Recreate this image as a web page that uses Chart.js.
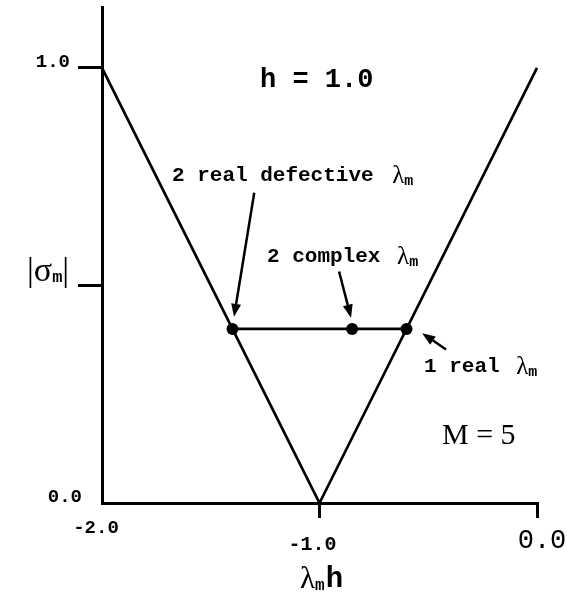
<!DOCTYPE html>
<html>
<head>
<meta charset="utf-8">
<script src="https://cdn.jsdelivr.net/npm/chart.js@4"></script>
<style>
  body { margin: 0; background: #fff; }
</style>
</head>
<body>
<canvas id="canvas" width="567" height="596"></canvas>
<script>
// |sigma_m| against lambda_m*h for the h = 1.0, M = 5 case
const vLineX = [-2.0, -1.0, 0.0]
const vLineY = [1.0, 0.0, 1.0]
const flatX = [-1.4, -0.6]
const flatY = [0.4, 0.4]
const pointX = [-1.4, -0.85, -0.6]
const pointY = [0.4, 0.4, 0.4]
const xTicks = [-2.0, -1.0, 0.0]
const yTicks = [0.0, 0.5, 1.0]

// arrows: [fromX, fromY, toX, toY] in data units
const arrows = [
  [-1.30, 0.713, -1.393, 0.428],
  [-0.91, 0.532, -0.855, 0.426],
  [-0.418, 0.353, -0.528, 0.390]
]

const mono = 'bold 21px "Liberation Mono", "Courier New", monospace'
const serif = '"Liberation Serif", "Times New Roman", serif'

function pairs(xs, ys) {
  return xs.map((x, i) => ({x: x, y: ys[i]}))
}

// writes a row of text pieces with different fonts, left to right
function drawParts(ctx, x, y, parts) {
  parts.forEach(p => {
    ctx.font = p.f
    ctx.fillText(p.t, x, y + (p.dy || 0))
    x += ctx.measureText(p.t).width + (p.gap || 0)
  })
}

const labelsPlugin = {
  id: 'labels',
  afterDraw(chart) {
    const ctx = chart.ctx
    const xs = chart.scales.x
    const ys = chart.scales.y
    ctx.save()
    ctx.fillStyle = '#000'
    ctx.strokeStyle = '#000'

    // arrows
    ctx.lineWidth = 2.5
    arrows.forEach(a => {
      const x1 = xs.getPixelForValue(a[0]), y1 = ys.getPixelForValue(a[1])
      const x2 = xs.getPixelForValue(a[2]), y2 = ys.getPixelForValue(a[3])
      const ang = Math.atan2(y2 - y1, x2 - x1)
      const len = 13, wid = 5
      ctx.beginPath()
      ctx.moveTo(x1, y1)
      ctx.lineTo(x2 - len * Math.cos(ang), y2 - len * Math.sin(ang))
      ctx.stroke()
      ctx.beginPath()
      ctx.moveTo(x2, y2)
      ctx.lineTo(x2 - len * Math.cos(ang) + wid * Math.sin(ang), y2 - len * Math.sin(ang) - wid * Math.cos(ang))
      ctx.lineTo(x2 - len * Math.cos(ang) - wid * Math.sin(ang), y2 - len * Math.sin(ang) + wid * Math.cos(ang))
      ctx.closePath()
      ctx.fill()
    })

    // tick labels
    ctx.textBaseline = 'middle'
    ctx.font = 'bold 19px "Liberation Mono", monospace'
    ctx.textAlign = 'right'
    ctx.fillText(yTicks[2].toFixed(1), xs.left - 32, ys.getPixelForValue(yTicks[2]) - 6)
    ctx.fillText(yTicks[0].toFixed(1), xs.left - 20, ys.getPixelForValue(yTicks[0]) - 6)
    ctx.textAlign = 'center'
    ctx.fillText(xTicks[0].toFixed(1), xs.getPixelForValue(xTicks[0]) - 6, ys.bottom + 25)
    ctx.font = 'bold 20px "Liberation Mono", monospace'
    ctx.fillText(xTicks[1].toFixed(1), xs.getPixelForValue(xTicks[1]) - 7, ys.bottom + 42)
    ctx.font = '27px "Liberation Mono", monospace'
    ctx.fillText(xTicks[2].toFixed(1), xs.getPixelForValue(xTicks[2]) + 5, ys.bottom + 38)

    // annotations
    ctx.textAlign = 'left'
    ctx.font = 'bold 27px "Liberation Mono", monospace'
    ctx.fillText('h = 1.0', 260, 80)
    const lam = '25px ' + serif
    const sub = 'bold 15px "Liberation Mono", monospace'
    drawParts(ctx, 172, 176, [{t: '2 real defective ', f: mono, gap: 6}, {t: 'λ', f: lam}, {t: 'm', f: sub, dy: 5}])
    drawParts(ctx, 267, 257, [{t: '2 complex ', f: mono, gap: 4}, {t: 'λ', f: lam}, {t: 'm', f: sub, dy: 5}])
    drawParts(ctx, 424, 367, [{t: '1 real ', f: mono, gap: 4}, {t: 'λ', f: lam}, {t: 'm', f: sub, dy: 5}])
    ctx.font = '30px ' + serif
    ctx.fillText('M = 5', 442, 436)

    // axis titles
    drawParts(ctx, 27, 272, [{t: '|σ', f: '34px ' + serif}, {t: 'm', f: 'bold 17px "Liberation Mono", monospace', dy: 6}, {t: '|', f: '34px ' + serif}])
    drawParts(ctx, 300, 580, [{t: 'λ', f: '31px ' + serif}, {t: 'm', f: 'bold 16px "Liberation Mono", monospace', dy: 6, gap: 1}, {t: 'h', f: 'bold 29px "Liberation Mono", monospace'}])
    ctx.restore()
  }
}

const ctx = document.getElementById('canvas').getContext('2d')
const myChart = new Chart(ctx, {
  type: 'scatter',
  data: {
    datasets: [
      {
        data: pairs(vLineX, vLineY),
        showLine: true,
        borderColor: '#000',
        borderWidth: 2.7,
        borderJoinStyle: 'miter',
        pointRadius: 0,
        clip: false
      },
      {
        data: pairs(flatX, flatY),
        showLine: true,
        borderColor: '#000',
        borderWidth: 2.7,
        pointRadius: 0
      },
      {
        data: pairs(pointX, pointY),
        showLine: false,
        backgroundColor: '#000',
        borderColor: '#000',
        pointRadius: 6,
        pointBorderWidth: 0
      }
    ]
  },
  options: {
    responsive: false,
    animation: false,
    layout: { padding: { left: 78, right: 30, top: 7, bottom: 78 } },
    plugins: { legend: { display: false }, tooltip: { enabled: false } },
    scales: {
      x: {
        type: 'linear',
        min: -2,
        max: 0,
        afterBuildTicks: s => { s.ticks = xTicks.map(v => ({value: v})) },
        afterFit: s => { s.height = 15 },
        ticks: { display: false },
        grid: {
          drawOnChartArea: false,
          tickLength: 15,
          lineWidth: 3,
          color: c => (c.tick && c.tick.value === xTicks[0]) ? 'rgba(0,0,0,0)' : '#000'
        },
        border: { color: '#000', width: 3 }
      },
      y: {
        min: 0,
        max: 1.14,
        afterBuildTicks: s => { s.ticks = yTicks.map(v => ({value: v})) },
        afterFit: s => { s.width = 24 },
        ticks: { display: false },
        grid: {
          drawOnChartArea: false,
          tickLength: 24,
          lineWidth: 3,
          color: c => (c.tick && c.tick.value === yTicks[0]) ? 'rgba(0,0,0,0)' : '#000'
        },
        border: { color: '#000', width: 3 }
      }
    }
  },
  plugins: [labelsPlugin]
})
</script>
</body>
</html>
